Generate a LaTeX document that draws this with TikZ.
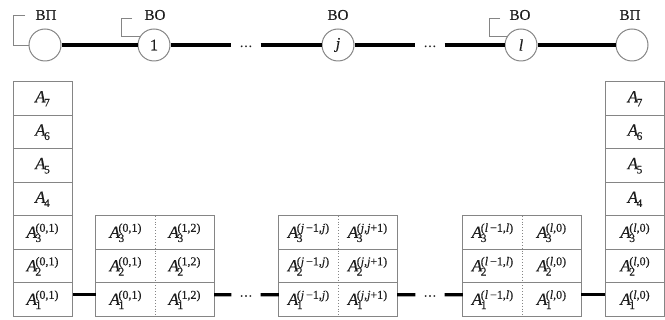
\documentclass[tikz,border=0pt]{standalone}
\usepackage{fontspec}
\setmainfont{Liberation Serif}[FakeBold=0.35]
\newcommand{\Acell}[2]{\textit{A}\kern-1.5pt\rlap{\raisebox{-4.2pt}{\fontsize{11.5}{11}\selectfont #1}}\raisebox{6pt}{\fontsize{12}{11}\selectfont #2}}
\newcommand{\Asub}[1]{\textit{A}\kern-1.5pt\raisebox{-4.2pt}{\fontsize{11.5}{11}\selectfont #1}}
\definecolor{lgray}{HTML}{858585}
\definecolor{ink}{HTML}{1E1E1E}
\begin{document}
\begin{tikzpicture}[x=1pt,y=-1pt,
  circ/.style={circle, draw=lgray, line width=1pt, minimum size=32pt, inner sep=0pt, text=ink, font=\fontsize{16}{18}\selectfont},
  cell/.style={draw=lgray, line width=1pt, minimum width=59pt, minimum height=33.5pt, inner sep=0pt, text=ink, font=\fontsize{17}{19}\selectfont},
  bcell/.style={minimum width=59pt, minimum height=33.5pt, inner sep=0pt, text=ink, font=\fontsize{17}{19}\selectfont},
  bline/.style={draw=lgray, line width=1pt},
  bdot/.style={draw=lgray, line width=0.9pt, dotted},
  conn/.style={line width=3.2pt, black},
  lbl/.style={text=ink, font=\fontsize{15}{17}\selectfont, inner sep=0pt},
  brk/.style={draw=lgray, line width=0.9pt},
  dotsn/.style={inner xsep=8pt, inner ysep=0pt, text=ink, font=\fontsize{13}{15}\selectfont}
]
\useasboundingbox (0,0) rectangle (665,320);

% ---- top row ----
\node[circ] (c0) at (45,45) {};
\node[circ] (c1) at (154,45) {1};
\node[circ] (cj) at (338,45) {\textit{j}};
\node[circ] (cl) at (521,45) {\textit{l}};
\node[circ] (c9) at (632,45) {};

\node[lbl] (t0) at (46,15) {ВП};
\node[lbl] (t1) at (155,15) {ВО};
\node[lbl] (tj) at (338,15) {ВО};
\node[lbl] (tl) at (520,15) {ВО};
\node[lbl] (t9) at (630,15) {ВП};

\coordinate (b0) at (25,15);
\coordinate (b1) at (132,18);
\coordinate (bl) at (500,18);
\draw[brk] (b0) -| ([xshift=-15pt]c0.west) -- (c0.west);
\draw[brk] (b1) -| ([xshift=-18pt]c1.150) -- (c1.150);
\draw[brk] (bl) -| ([xshift=-17pt]cl.150) -- (cl.150);

\node[dotsn] (d1) at (246,45) {\raisebox{-4pt}{…}};
\node[dotsn] (d2) at (430,45) {\raisebox{-4pt}{…}};

\draw[conn] (c0) -- (c1);
\draw[conn] (c1) -- (d1);
\draw[conn] (d1) -- (cj);
\draw[conn] (cj) -- (d2);
\draw[conn] (d2) -- (cl);
\draw[conn] (cl) -- (c9);

% ---- left column ----
\foreach \n/\r/\t in {7/0/\Asub{7},6/1/\Asub{6},5/2/\Asub{5},4/3/\Asub{4},
  3/4/\Acell{3}{(0,1)},2/5/\Acell{2}{(0,1)},1/6/\Acell{1}{(0,1)}}
  \node[cell] (L\n) at (42.5,98.75+33.5*\r) {\t};

% ---- right column ----
\foreach \n/\r/\t in {7/0/\Asub{7},6/1/\Asub{6},5/2/\Asub{5},4/3/\Asub{4},
  3/4/\Acell{3}{(\textit{l},0)},2/5/\Acell{2}{(\textit{l},0)},1/6/\Acell{1}{(\textit{l},0)}}
  \node[cell] (R\n) at (635,98.75+33.5*\r) {\t};

% ---- blocks ----
\foreach \b/\x/\sa/\sb in {
   a/125.5/{(0,1)}/{(1,2)},
   j/308.5/{(\textit{j}\,−1,\textit{j})}/{(\textit{j},\textit{j}+1)},
   l/492.5/{(\textit{l}\,−1,\textit{l})}/{(\textit{l},0)}}{
  \foreach \n/\r in {3/4,2/5,1/6}{
    \node[bcell] (\b L\n) at (\x,98.75+33.5*\r) {\Acell{\n}{\sa}};
    \node[bcell] (\b R\n) at (\x+59,98.75+33.5*\r) {\Acell{\n}{\sb}};
  }
  \draw[bline] (\b L3.north west) rectangle (\b R1.south east);
  \draw[bline] (\b L2.north west) -- (\b R2.north east);
  \draw[bline] (\b L1.north west) -- (\b R1.north east);
  \draw[bdot] (\b L3.north east) -- (\b L1.south east);
}

\node[dotsn] (e1) at (246,294.7) {\raisebox{-4pt}{…}};
\node[dotsn] (e2) at (430,294.7) {\raisebox{-4pt}{…}};

\draw[conn] ([yshift=5pt]L1.east) -- ([yshift=5pt]aL1.west);
\draw[conn] ([yshift=5pt]aR1.east) -- (e1);
\draw[conn] (e1) -- ([yshift=5pt]jL1.west);
\draw[conn] ([yshift=5pt]jR1.east) -- (e2);
\draw[conn] (e2) -- ([yshift=5pt]lL1.west);
\draw[conn] ([yshift=5pt]lR1.east) -- ([yshift=5pt]R1.west);
\end{tikzpicture}
\end{document}
